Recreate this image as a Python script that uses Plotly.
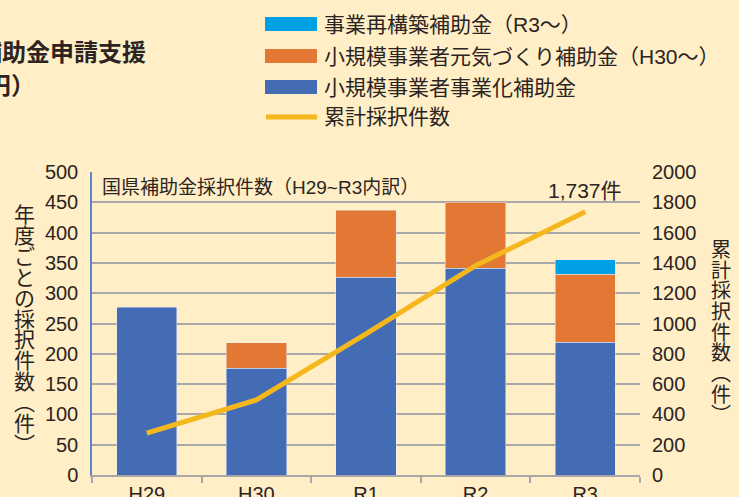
import plotly.graph_objects as go

# ---- data ----
categories = ["H29", "H30", "R1", "R2", "R3"]
jigyoka = [277, 176, 326, 341, 219]          # 小規模事業者事業化補助金
genki = [None, 42, 111, 109, 112]            # 小規模事業者元気づくり補助金（H30～）
saikouchiku = [None, None, None, None, 24]   # 事業再構築補助金（R3～）
cumulative = [277, 495, 932, 1382, 1737]     # 累計採択件数
left_ticks = [0, 50, 100, 150, 200, 250, 300, 350, 400, 450, 500]
right_ticks = [0, 200, 400, 600, 800, 1000, 1200, 1400, 1600, 1800, 2000]

# ---- style ----
W, H = 739, 497
L, R, T, B = 92, 640, 172, 475
BG = "#FFEEC6"
BLUE = "#436CB4"
ORANGE = "#E27834"
CYAN = "#00A1E4"
YELLOW = "#F5B81C"
GRID = "#A8A8A8"
TXT = "#2B2422"
FONT = "Liberation Sans, Noto Sans CJK JP, sans-serif"
CJK = "Noto Sans CJK JP"


def px(x):
    return (x - L) / (R - L)


def py(y):
    return (B - y) / (B - T)


fig = go.Figure()
fig.add_trace(go.Bar(x=categories, y=jigyoka, marker_color=BLUE, width=0.55,
                     name="小規模事業者事業化補助金"))
fig.add_trace(go.Bar(x=categories, y=genki, marker_color=ORANGE, width=0.55,
                     name="小規模事業者元気づくり補助金（H30～）"))
fig.add_trace(go.Bar(x=categories, y=saikouchiku, marker_color=CYAN, width=0.55,
                     name="事業再構築補助金（R3～）"))
fig.add_trace(go.Scatter(x=categories, y=cumulative, yaxis="y2", mode="lines",
                         line=dict(color=YELLOW, width=5), name="累計採択件数"))

annotations = []
shapes = []

# legend (manual, wide swatches)
legend_rows = [
    ("事業再構築補助金（R3～）", CYAN, 24, "bar"),
    ("小規模事業者元気づくり補助金（H30～）", ORANGE, 56, "bar"),
    ("小規模事業者事業化補助金", BLUE, 87, "bar"),
    ("累計採択件数", YELLOW, 117, "line"),
]
for text, color, yc, kind in legend_rows:
    if kind == "bar":
        shapes.append(dict(type="rect", xref="paper", yref="paper",
                           x0=px(265), x1=px(317), y0=py(yc - 7), y1=py(yc + 7),
                           fillcolor=color, line=dict(width=0)))
    else:
        shapes.append(dict(type="line", xref="paper", yref="paper",
                           x0=px(266), x1=px(317), y0=py(yc), y1=py(yc),
                           line=dict(color=color, width=5)))
    annotations.append(dict(text=text, xref="paper", yref="paper", x=px(322), y=py(yc),
                             xanchor="left", yanchor="middle", showarrow=False,
                             font=dict(size=21, color=TXT, family=FONT)))

# cut-off heading at top-left
annotations.append(dict(text="<b>補助金申請支援</b>", xref="paper", yref="paper",
                        x=px(148), y=py(52), xanchor="right", yanchor="middle",
                        showarrow=False, font=dict(size=24, color=TXT, family=FONT)))
annotations.append(dict(text="<b>（単位：万円）</b>", xref="paper", yref="paper",
                        x=px(37), y=py(86), xanchor="right", yanchor="middle",
                        showarrow=False, font=dict(size=24, color=TXT, family=FONT)))

# inset title
annotations.append(dict(text="国県補助金採択件数（H29~R3内訳）", xref="paper", yref="paper",
                        x=px(100), y=py(187), xanchor="left", yanchor="middle",
                        showarrow=False, font=dict(size=19, color=TXT, family=FONT)))

# end label
annotations.append(dict(text="1,737件", x=categories[-1], y=cumulative[-1], yref="y2",
                        xanchor="center", yanchor="middle", yshift=21, showarrow=False,
                        font=dict(size=21, color=TXT, family=FONT)))

# vertical axis titles
left_title = "年度ごとの採択件数︵件︶"
pitch = (453 - 203) / len(left_title)
for i, ch in enumerate(left_title):
    annotations.append(dict(text=ch, xref="paper", yref="paper", x=px(24),
                            y=py(203 + pitch * (i + 0.5)), xanchor="center", yanchor="middle",
                            showarrow=False, font=dict(size=21, color=TXT, family=CJK)))
right_title = "累計採択件数︵件︶"
pitch = (424 - 238) / len(right_title)
for i, ch in enumerate(right_title):
    annotations.append(dict(text=ch, xref="paper", yref="paper", x=px(721),
                            y=py(238 + pitch * (i + 0.5)), xanchor="center", yanchor="middle",
                            showarrow=False, font=dict(size=20, color=TXT, family=CJK)))

fig.update_layout(
    width=W, height=H,
    margin=dict(l=L, r=W - R, t=T, b=H - B, pad=0, autoexpand=False),
    paper_bgcolor=BG, plot_bgcolor=BG,
    barmode="stack", bargap=0.45,
    showlegend=False,
    font=dict(family=FONT, color=TXT, size=20),
    annotations=annotations,
    shapes=shapes,
    xaxis=dict(type="category", categoryorder="array", categoryarray=categories,
               range=[-0.5, 4.5], tickson="boundaries", ticks="outside", ticklen=6,
               tickcolor=GRID, tickwidth=1.5, showline=True, linecolor=GRID, linewidth=1.5,
               showgrid=False, automargin=False,
               tickfont=dict(size=20, color=TXT, family=FONT)),
    yaxis=dict(range=[0, 500], tickvals=left_ticks, showgrid=True, gridcolor=GRID,
               gridwidth=1.5, zeroline=False, showline=True, linecolor="#5B86CC",
               linewidth=1.5, ticks="", ticklabelstandoff=8, automargin=False,
               tickfont=dict(size=20, color=TXT, family=FONT)),
    yaxis2=dict(range=[0, 2000], tickvals=right_ticks, overlaying="y", side="right",
                showgrid=False, zeroline=False, showline=False, ticks="",
                ticklabelstandoff=11, automargin=False,
                tickfont=dict(size=20, color=TXT, family=FONT)),
)

fig.write_html("out.html", config={"displayModeBar": False},
               post_script="document.body.style.margin='0';document.body.style.background='" + BG + "';")
